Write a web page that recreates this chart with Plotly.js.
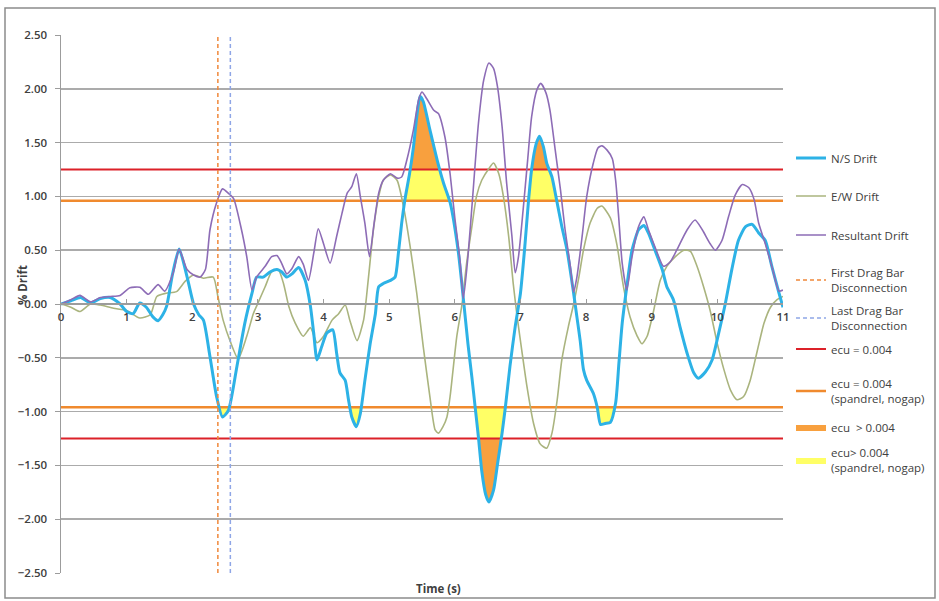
<!DOCTYPE html>
<html>
<head>
<meta charset="utf-8">
<script src="https://cdn.plot.ly/plotly-3.0.1.min.js"></script>
<style>
html,body{margin:0;padding:0;background:#fff;}
#chart{width:939px;height:601px;}
</style>
</head>
<body>
<div id="chart"></div>
<script>
// ---- data ----
const nsTime = [0,0.15,0.3,0.45,0.6,0.75,0.9,1.0,1.1,1.2,1.3,1.4,1.48,1.55,1.61,1.7,1.8,1.92,2.02,2.1,2.17,2.27,2.37,2.46,2.55,2.68,2.8,2.91,2.98,3.08,3.19,3.29,3.36,3.44,3.52,3.62,3.72,3.8,3.85,3.9,3.97,4.05,4.14,4.2,4.25,4.33,4.38,4.43,4.5,4.56,4.63,4.71,4.79,4.84,4.91,5.02,5.09,5.14,5.19,5.24,5.31,5.37,5.42,5.47,5.52,5.62,5.73,5.83,5.93,6.05,6.13,6.2,6.26,6.31,6.36,6.41,6.47,6.52,6.59,6.65,6.72,6.77,6.84,6.92,7.0,7.07,7.12,7.17,7.24,7.29,7.35,7.4,7.48,7.54,7.63,7.71,7.81,7.86,7.91,7.96,8.01,8.11,8.17,8.22,8.29,8.37,8.45,8.5,8.55,8.62,8.7,8.8,8.88,8.95,9.05,9.16,9.23,9.33,9.43,9.54,9.64,9.71,9.82,9.92,10.02,10.12,10.22,10.32,10.43,10.53,10.63,10.73,10.83,10.94,11.0];
const nsDrift = [0,0.03,0.06,0.01,0.05,0.06,0.0,-0.07,-0.09,0.01,-0.03,-0.12,-0.155,-0.1,-0.02,0.28,0.51,0.255,0.0,-0.1,-0.15,-0.49,-0.86,-1.05,-0.99,-0.58,-0.18,0.1,0.25,0.25,0.3,0.32,0.3,0.25,0.28,0.34,0.22,-0.02,-0.27,-0.52,-0.4,-0.27,-0.24,-0.46,-0.64,-0.71,-0.89,-1.05,-1.14,-1.02,-0.71,-0.37,-0.09,0.16,0.19,0.22,0.25,0.47,0.75,0.97,1.21,1.46,1.74,1.93,1.88,1.62,1.34,1.12,0.94,0.5,0.05,-0.37,-0.68,-0.96,-1.24,-1.55,-1.77,-1.84,-1.73,-1.49,-1.2,-0.96,-0.58,-0.21,0.1,0.56,0.94,1.25,1.49,1.56,1.46,1.31,1.18,1.0,0.72,0.5,0.1,-0.12,-0.34,-0.61,-0.71,-0.83,-0.96,-1.12,-1.11,-1.1,-0.92,-0.55,-0.18,0.16,0.5,0.69,0.73,0.66,0.5,0.32,0.16,0.04,-0.21,-0.46,-0.64,-0.69,-0.63,-0.52,-0.27,0.0,0.32,0.59,0.72,0.74,0.66,0.59,0.35,0.1,-0.03];

const ewTime = [0,0.15,0.29,0.45,0.6,0.8,1.0,1.2,1.36,1.46,1.6,1.76,1.89,2.02,2.17,2.32,2.39,2.47,2.58,2.7,2.83,2.93,2.98,3.11,3.21,3.31,3.39,3.47,3.57,3.69,3.8,3.9,4.0,4.13,4.23,4.33,4.4,4.51,4.61,4.68,4.76,4.84,4.91,5.02,5.12,5.22,5.32,5.42,5.52,5.62,5.7,5.75,5.82,5.88,5.93,6.03,6.11,6.18,6.26,6.33,6.41,6.52,6.59,6.67,6.74,6.82,6.89,6.95,7.02,7.1,7.2,7.3,7.4,7.48,7.56,7.63,7.73,7.81,7.89,7.96,8.06,8.17,8.24,8.37,8.47,8.57,8.67,8.78,8.85,8.93,9.03,9.13,9.23,9.36,9.49,9.59,9.69,9.79,9.89,10.0,10.1,10.2,10.3,10.4,10.5,10.61,10.71,10.81,10.91,11.0];
const ewDrift = [0,-0.03,-0.07,0.0,-0.01,-0.04,-0.06,-0.13,-0.1,0.07,0.1,0.115,0.21,0.27,0.24,0.25,0.07,-0.15,-0.35,-0.51,-0.3,-0.09,-0.02,0.16,0.3,0.32,0.19,-0.02,-0.18,-0.3,-0.22,-0.36,-0.3,-0.15,-0.09,-0.01,-0.15,-0.34,-0.15,0.22,0.69,1.0,1.15,1.2,1.15,0.9,0.53,0.1,-0.4,-0.86,-1.17,-1.2,-1.14,-1.05,-0.85,-0.3,0.0,0.38,0.72,1.0,1.15,1.26,1.31,1.21,1.0,0.63,0.19,-0.12,-0.43,-0.77,-1.11,-1.3,-1.34,-1.2,-0.89,-0.52,-0.21,0.0,0.25,0.5,0.75,0.89,0.91,0.8,0.55,0.16,-0.12,-0.3,-0.37,-0.3,-0.06,0.22,0.35,0.44,0.5,0.49,0.35,0.16,-0.06,-0.37,-0.61,-0.8,-0.89,-0.86,-0.71,-0.43,-0.18,-0.03,0.04,0.07];

const resTime = [0,0.15,0.29,0.45,0.6,0.75,0.9,1.05,1.2,1.33,1.48,1.58,1.71,1.8,1.92,2.02,2.12,2.2,2.27,2.37,2.46,2.55,2.63,2.75,2.83,2.91,2.98,3.11,3.21,3.29,3.36,3.44,3.52,3.62,3.69,3.77,3.85,3.92,4.0,4.1,4.2,4.28,4.36,4.43,4.5,4.56,4.63,4.7,4.77,4.84,4.91,5.02,5.12,5.19,5.27,5.37,5.45,5.5,5.57,5.68,5.75,5.85,5.93,6.0,6.08,6.13,6.2,6.28,6.36,6.44,6.52,6.59,6.65,6.72,6.79,6.87,6.92,6.97,7.04,7.11,7.17,7.25,7.31,7.39,7.45,7.53,7.61,7.68,7.76,7.81,7.86,7.94,8.01,8.11,8.18,8.24,8.32,8.4,8.45,8.5,8.55,8.62,8.7,8.8,8.88,8.95,9.05,9.18,9.28,9.38,9.54,9.66,9.77,9.89,9.97,10.07,10.17,10.27,10.38,10.48,10.56,10.63,10.73,10.83,10.94,11.0];
const resDrift = [0,0.04,0.08,0.02,0.06,0.07,0.08,0.15,0.155,0.09,0.18,0.12,0.29,0.51,0.32,0.27,0.25,0.32,0.69,0.94,1.07,1.03,0.98,0.69,0.44,0.13,0.25,0.35,0.44,0.45,0.38,0.28,0.33,0.44,0.37,0.22,0.47,0.7,0.56,0.38,0.63,0.84,1.03,1.09,1.21,1.0,0.75,0.44,0.75,1.03,1.15,1.21,1.17,1.18,1.34,1.62,1.9,1.97,1.91,1.8,1.77,1.55,1.2,0.8,0.4,0.05,0.44,1.06,1.68,2.08,2.24,2.19,2.02,1.65,1.12,0.63,0.29,0.44,0.87,1.34,1.74,1.99,2.05,1.96,1.8,1.43,1.06,0.69,0.35,0.11,0.25,0.63,1.0,1.31,1.45,1.47,1.43,1.35,1.15,0.78,0.38,0.13,0.44,0.72,0.81,0.69,0.53,0.35,0.39,0.5,0.69,0.78,0.69,0.56,0.5,0.59,0.81,1.01,1.11,1.08,0.97,0.75,0.56,0.35,0.12,0.13];

const firstDisconnect = 2.39;   // s
const lastDisconnect = 2.58;    // s
const ecuLimit = 1.25;          // % drift, ecu = 0.004
const ecuSpandrel = 0.96;       // % drift, ecu = 0.004 (spandrel, nogap)
const timeRange = [0, 11];
const driftRange = [-2.5, 2.5];
const xTicks = [0,1,2,3,4,5,6,7,8,9,10,11];

// ---- colours ----
const C = {
  ns: '#2DB2E6', ew: '#AAB47E', res: '#8D6CB6',
  red: '#DC2129', orange: '#F08A2E',
  fillOrange: '#F8A03E', fillYellow: '#FFFF66',
  first: '#F0883A', last: '#8FA6E6',
  grid: '#ABABAB', axis: '#9C9C9C', text: '#404040'
};

// clamp a series into [lo, hi], adding the points where it crosses lo or hi
function clampSeries(xs, ys, lo, hi) {
  const ox = [], oy = [];
  for (let i = 0; i < xs.length; i++) {
    if (i > 0) {
      const cr = [];
      [lo, hi].forEach(th => {
        const a = ys[i-1] - th, b = ys[i] - th;
        if (a * b < 0) {
          cr.push([xs[i-1] + (th - ys[i-1]) * (xs[i] - xs[i-1]) / (ys[i] - ys[i-1]), th]);
        }
      });
      cr.sort((p, q) => p[0] - q[0]).forEach(p => { ox.push(p[0]); oy.push(p[1]); });
    }
    ox.push(xs[i]);
    oy.push(Math.min(Math.max(ys[i], lo), hi));
  }
  return {x: ox, y: oy};
}

const traces = [];
function base(level) {
  return {x: timeRange, y: [level, level], mode: 'lines', line: {width: 0},
          showlegend: false, hoverinfo: 'skip'};
}
// upper yellow
traces.push(base(ecuSpandrel));
let c = clampSeries(nsTime, nsDrift, ecuSpandrel, ecuLimit);
traces.push({x: c.x, y: c.y, mode: 'lines', line: {width: 0}, fill: 'tonexty',
  fillcolor: C.fillYellow, name: 'ecu> 0.004<br>(spandrel, nogap)', legend: 'legend9'});
// upper orange
traces.push(base(ecuLimit));
c = clampSeries(nsTime, nsDrift, ecuLimit, 10);
traces.push({x: c.x, y: c.y, mode: 'lines', line: {width: 0}, fill: 'tonexty',
  fillcolor: C.fillOrange, name: 'ecu  > 0.004', legend: 'legend8'});
// lower yellow
traces.push(base(-ecuSpandrel));
c = clampSeries(nsTime, nsDrift, -ecuLimit, -ecuSpandrel);
traces.push({x: c.x, y: c.y, mode: 'lines', line: {width: 0}, fill: 'tonexty',
  fillcolor: C.fillYellow, showlegend: false});
// lower orange
traces.push(base(-ecuLimit));
c = clampSeries(nsTime, nsDrift, -10, -ecuLimit);
traces.push({x: c.x, y: c.y, mode: 'lines', line: {width: 0}, fill: 'tonexty',
  fillcolor: C.fillOrange, showlegend: false});

// threshold lines
traces.push({x: timeRange, y: [ecuLimit, ecuLimit], mode: 'lines', line: {color: C.red, width: 2},
  name: 'ecu = 0.004', legend: 'legend6'});
traces.push({x: timeRange, y: [-ecuLimit, -ecuLimit], mode: 'lines', line: {color: C.red, width: 2},
  showlegend: false});
traces.push({x: timeRange, y: [ecuSpandrel, ecuSpandrel], mode: 'lines', line: {color: C.orange, width: 2.5},
  name: 'ecu = 0.004<br>(spandrel, nogap)', legend: 'legend7'});
traces.push({x: timeRange, y: [-ecuSpandrel, -ecuSpandrel], mode: 'lines', line: {color: C.orange, width: 2.5},
  showlegend: false});

// series
const smooth = 0.6;
traces.push({x: ewTime, y: ewDrift, mode: 'lines', line: {color: C.ew, width: 1.6, shape: 'spline', smoothing: smooth},
  name: 'E/W Drift', legend: 'legend2'});
traces.push({x: nsTime, y: nsDrift, mode: 'lines', line: {color: C.ns, width: 3, shape: 'spline', smoothing: smooth},
  name: 'N/S Drift', legend: 'legend'});
traces.push({x: resTime, y: resDrift, mode: 'lines', line: {color: C.res, width: 1.6, shape: 'spline', smoothing: smooth},
  name: 'Resultant Drift', legend: 'legend3'});

// disconnection markers
traces.push({x: [firstDisconnect, firstDisconnect], y: driftRange, mode: 'lines',
  line: {color: C.first, width: 1.5, dash: '4px,3px'},
  name: 'First Drag Bar<br>Disconnection', legend: 'legend4'});
traces.push({x: [lastDisconnect, lastDisconnect], y: driftRange, mode: 'lines',
  line: {color: C.last, width: 1.5, dash: '4px,3px'},
  name: 'Last Drag Bar<br>Disconnection', legend: 'legend5'});

const W = 939, H = 601, L = 61, R = 156, T = 35, B = 28;
const pw = W - L - R, ph = H - T - B;
const px = v => (v - L) / pw;           // pixel x -> paper
const py = v => 1 - (v - T) / ph;       // pixel y -> paper

const fam = 'Open Sans, Liberation Sans, Arial, sans-serif';
const font = {family: fam, size: 11, color: C.text};

// legend entry centres (pixels) as in the reference
const legendCentres = [158, 196, 235, 280, 318, 349, 391, 427, 460];

const layout = {
  width: W, height: H,
  margin: {l: L, r: R, t: T, b: B, pad: 0, autoexpand: false},
  paper_bgcolor: '#fff', plot_bgcolor: '#fff',
  font: font,
  showlegend: true,
  hovermode: false,
  xaxis: {range: timeRange, tickvals: xTicks, ticktext: xTicks.map(String),
    anchor: 'free', position: 0.5, showgrid: false, zeroline: false,
    showline: true, linecolor: C.axis, linewidth: 2,
    ticks: 'inside', ticklen: 4, tickcolor: C.axis, ticklabelstandoff: 2,
    tickfont: {family: fam, size: 11.5, color: C.text, weight: 600}},
  yaxis: {range: driftRange, dtick: 0.5, tick0: -2.5, tickformat: '.2f',
    showgrid: true, gridcolor: C.grid, gridwidth: 1.5, zeroline: false,
    showline: true, linecolor: C.axis, linewidth: 1.5,
    ticks: 'outside', ticklen: 5, tickcolor: C.axis, ticklabelstandoff: 5,
    tickfont: {family: fam, size: 11.5, color: C.text, weight: 600}},
  annotations: [
    {text: '<b>Time (s)</b>', xref: 'paper', yref: 'paper', x: px(438), y: py(588),
     xanchor: 'center', yanchor: 'middle', showarrow: false,
     font: {family: fam, size: 11.5, color: C.text}},
    {text: '<b>% Drift</b>', xref: 'paper', yref: 'paper', x: px(22), y: py(285),
     xanchor: 'center', yanchor: 'middle', showarrow: false, textangle: -90,
     font: {family: fam, size: 11.5, color: C.text}}
  ],
  shapes: [
    {type: 'rect', xref: 'paper', yref: 'paper', x0: px(5), x1: px(935), y0: py(598), y1: py(8),
     line: {color: '#8C8C8C', width: 1.5}, fillcolor: 'rgba(0,0,0,0)', layer: 'below'}
  ]
};
legendCentres.forEach((cy, i) => {
  const key = i === 0 ? 'legend' : 'legend' + (i + 1);
  layout[key] = {x: px(791), y: py(cy), xanchor: 'left', yanchor: 'middle',
    font: {family: fam, size: 11.5, color: C.text},
    itemwidth: 30, bgcolor: 'rgba(0,0,0,0)', borderwidth: 0};
});

Plotly.newPlot('chart', traces, layout, {displayModeBar: false, staticPlot: true});
</script>
</body>
</html>
